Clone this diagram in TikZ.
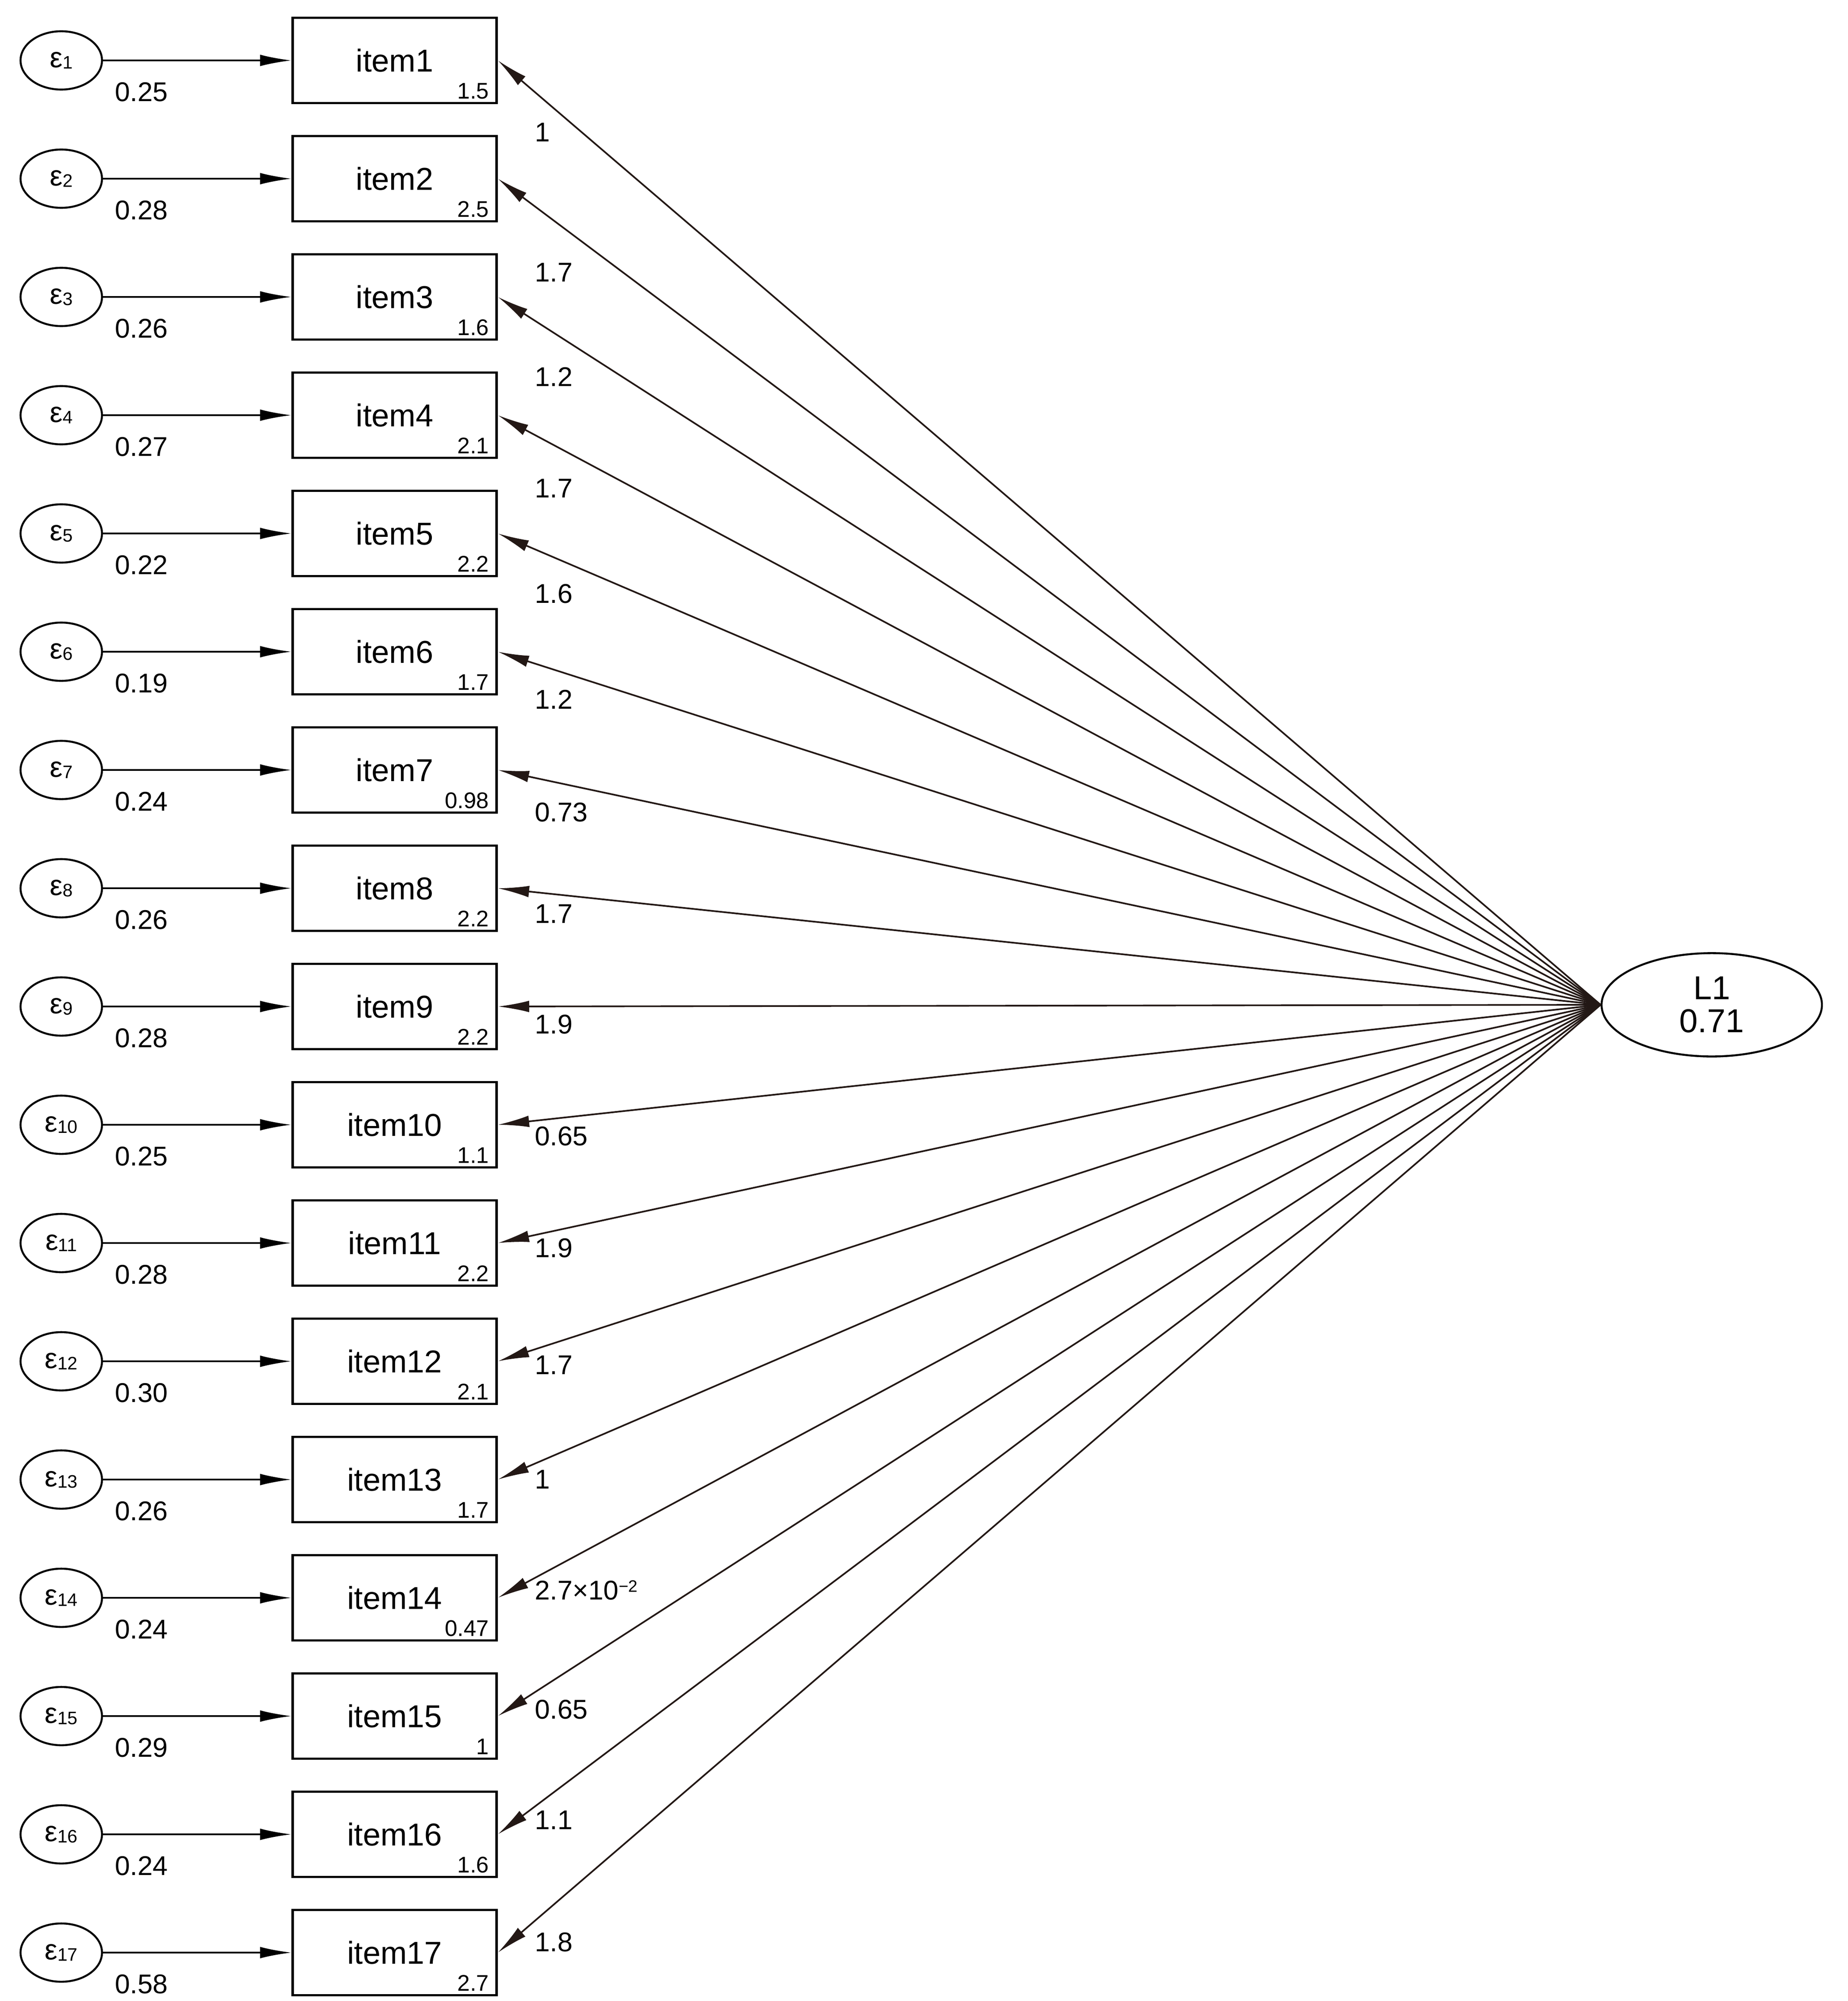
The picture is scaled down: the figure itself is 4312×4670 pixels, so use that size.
\documentclass[tikz,border=0pt]{standalone}
\usepackage{fontspec}
\setmainfont{Liberation Sans}
\usetikzlibrary{arrows.meta,shapes.geometric}
\begin{document}
\begin{tikzpicture}[x=0.01cm,y=-0.01cm,
  errell/.style={draw,ellipse,line width=1.3pt,minimum width=1.9cm,minimum height=1.36cm,inner sep=0pt},
  itembox/.style={draw,rectangle,line width=1.6pt,minimum width=4.76cm,minimum height=1.99cm,inner sep=0pt,font=\fontsize{21}{25}\selectfont},
  latell/.style={draw,ellipse,line width=1.3pt,minimum width=5.14cm,minimum height=2.41cm,inner sep=0pt,align=center,font=\fontsize{22}{26}\selectfont},
  small/.style={font=\fontsize{15}{18}\selectfont,inner sep=0pt},
  varlab/.style={font=\fontsize{18}{21}\selectfont,inner sep=0pt},
  errarr/.style={line width=1.1pt,-{Latex[length=0.73cm,width=0.27cm]}},
  loadarr/.style={line width=1.1pt,draw={rgb,255:red,35;green,24;blue,21},-{Latex[length=0.73cm,width=0.27cm]}}
]
\useasboundingbox (0,0) rectangle (4312,4670);
\node[latell] (L) at (3995,2345) {L1\\[-4pt]0.71};
\foreach \i/\ic/\v/\ld/\off in {
 1/1.5/0.25/1/56, 2/2.5/0.28/1.7/73, 3/1.6/0.26/1.2/62, 4/2.1/0.27/1.7/57,
 5/2.2/0.22/1.6/47, 6/1.7/0.19/1.2/37, 7/0.98/0.24/0.73/33, 8/2.2/0.26/1.7/20,
 9/2.2/0.28/1.9/14, 10/1.1/0.25/0.65/9, 11/2.2/0.28/1.9/4, 12/2.1/0.30/1.7/3,
 13/1.7/0.26/1/0, 14/0.47/0.24/{2.7×10\raisebox{0.55ex}{\fontsize{11}{12}\selectfont −2}}/-6,
 15/1/0.29/0.65/-5, 16/1.6/0.24/1.1/-11, 17/2.7/0.58/1.8/-8}{
  \pgfmathsetmacro\Y{141+276*(\i-1)}
  \node[errell] (e\i) at (143,\Y) {\fontsize{19}{22}\selectfont ε\raisebox{-0.1ex}{\fontsize{12}{14}\selectfont\i}};
  \node[itembox] (b\i) at (921,\Y) {\raisebox{0pt}{item\i}};
  \node[small,anchor=south east] (c\i) at ([xshift=-0.2cm,yshift=0.12cm]b\i.south east) {\ic};
  \node[varlab] (v\i) at (330,\Y+74) {\v};
  \draw[errarr] (e\i.east) -- (b\i.west);
  \draw[loadarr] (L.west) -- (b\i.east);
  \node[varlab,anchor=west] (l\i) at (1248,\Y+3*\off) {\ld};
}
\end{tikzpicture}
\end{document}
